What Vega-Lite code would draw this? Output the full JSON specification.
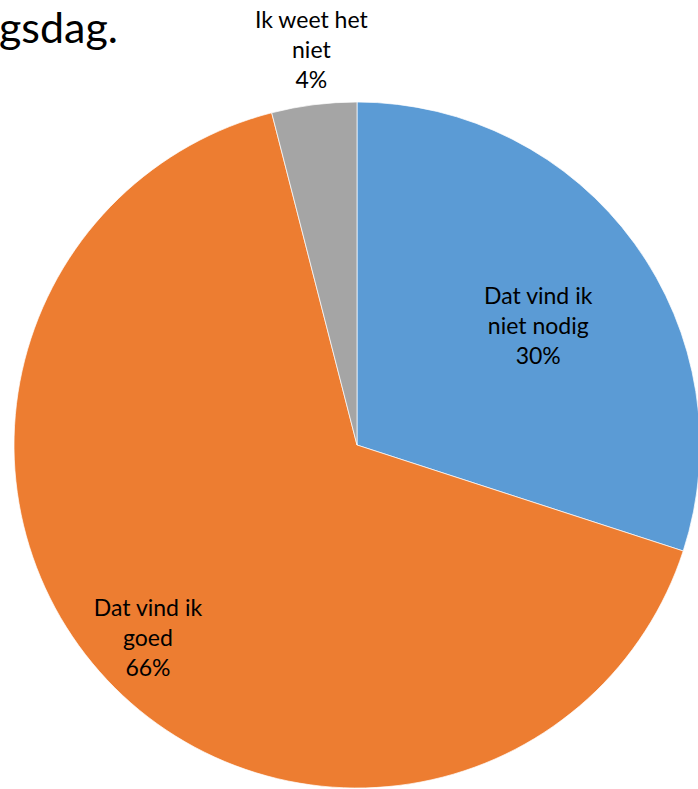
{
  "$schema": "https://vega.github.io/schema/vega-lite/v6.json",
  "width": 686,
  "height": 686,
  "autosize": {"type": "none"},
  "padding": {"left": 14, "top": 102, "right": 0, "bottom": 0},
  "background": "white",
  "title": {
    "text": "gsdag.",
    "anchor": "start",
    "orient": "top",
    "frame": "group",
    "dx": -15,
    "dy": 76,
    "offset": 0,
    "baseline": "alphabetic",
    "font": "Lato",
    "fontSize": 43,
    "fontWeight": "normal",
    "color": "#000000"
  },
  "data": {
    "values": [
      {"cat": "Dat vind ik niet nodig", "label": "Dat vind ik\nniet nodig\n30%", "value": 30, "order": 1},
      {"cat": "Dat vind ik goed", "label": "Dat vind ik\ngoed\n66%", "value": 66, "order": 2},
      {"cat": "Ik weet het niet", "label": "Ik weet het\nniet\n4%", "value": 4, "order": 3}
    ]
  },
  "encoding": {
    "theta": {"field": "value", "type": "quantitative", "stack": true},
    "order": {"field": "order", "type": "quantitative"}
  },
  "layer": [
    {
      "mark": {"type": "arc", "stroke": "white", "strokeWidth": 0.7},
      "encoding": {
        "color": {
          "field": "cat",
          "type": "nominal",
          "scale": {
            "domain": ["Dat vind ik niet nodig", "Dat vind ik goed", "Ik weet het niet"],
            "range": ["#5B9BD5", "#ED7D31", "#A5A5A5"]
          },
          "legend": null
        }
      }
    },
    {
      "mark": {"type": "text", "radius": 224, "dy": -16, "lineBreak": "\n", "font": "Lato", "fontSize": 23, "lineHeight": 30, "baseline": "middle", "align": "center", "color": "#000000"},
      "encoding": {"text": {"condition": {"test": "datum.order == 1", "field": "label"}, "value": ""}}
    },
    {
      "mark": {"type": "text", "radius": 284, "dx": -2, "dy": -30, "lineBreak": "\n", "font": "Lato", "fontSize": 23, "lineHeight": 30, "baseline": "middle", "align": "center", "color": "#000000"},
      "encoding": {"text": {"condition": {"test": "datum.order == 2", "field": "label"}, "value": ""}}
    },
    {
      "mark": {"type": "text", "radius": 396, "dx": 4, "dy": -31, "lineBreak": "\n", "font": "Lato", "fontSize": 23, "lineHeight": 30, "baseline": "middle", "align": "center", "color": "#000000"},
      "encoding": {"text": {"condition": {"test": "datum.order == 3", "field": "label"}, "value": ""}}
    }
  ]
}
